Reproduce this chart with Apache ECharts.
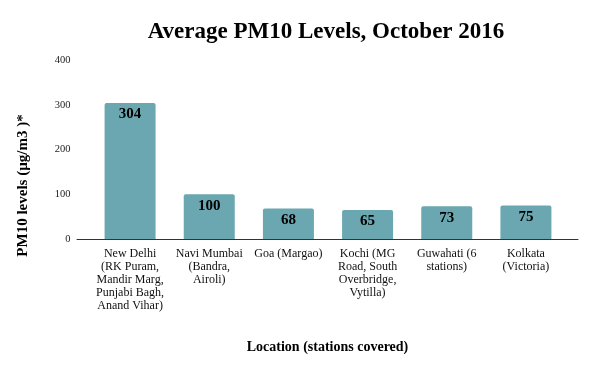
<!DOCTYPE html>
<html><head><meta charset="utf-8">
<script src="https://cdn.jsdelivr.net/npm/echarts@6/dist/echarts.min.js"></script>
<style>html,body{margin:0;padding:0;background:#fff}#c{width:597px;height:368px}</style>
</head><body><div id="c"></div>
<script>
const categories = [
  'New Delhi\n(RK Puram,\nMandir Marg,\nPunjabi Bagh,\nAnand Vihar)',
  'Navi Mumbai\n(Bandra,\nAiroli)',
  'Goa (Margao)',
  'Kochi (MG\nRoad, South\nOverbridge,\nVytilla)',
  'Guwahati (6\nstations)',
  'Kolkata\n(Victoria)'
];
const pm10Values = [304, 100, 68, 65, 73, 75];
const yTicks = [0, 100, 200, 300, 400];

const serif = '"Liberation Serif", "DejaVu Serif", serif';
const chart = echarts.init(document.getElementById('c'), null, {renderer: 'canvas'});
chart.setOption({
  animation: false,
  backgroundColor: '#fff',
  title: {
    text: 'Average PM10 Levels, October 2016',
    left: 321, top: 16, textAlign: 'center',
    textStyle: {fontFamily: serif, fontSize: 23, fontWeight: 'bold', color: '#000'}
  },
  grid: [
    {left: 90.5, right: 31.5, top: 60, bottom: 129},
    {left: 77, right: 19, top: 60, bottom: 129}
  ],
  xAxis: [
    {
      type: 'category', gridIndex: 0, data: categories,
      axisLine: {show: false}, axisTick: {show: false},
      axisLabel: {interval: 0, margin: 8, fontFamily: serif, fontSize: 12, lineHeight: 13, color: '#111', align: 'center'}
    },
    {
      type: 'category', gridIndex: 1, data: [''],
      axisLine: {show: true, lineStyle: {color: '#333', width: 1}},
      axisTick: {show: false}, axisLabel: {show: false},
      name: 'Location (stations covered)', nameLocation: 'middle', nameGap: 101,
      nameTextStyle: {fontFamily: serif, fontSize: 14, fontWeight: 'bold', color: '#000'}
    }
  ],
  yAxis: [
    {
      type: 'value', gridIndex: 0, min: 0, max: 400, interval: 100,
      axisLine: {show: false}, axisTick: {show: false}, splitLine: {show: false},
      axisLabel: {margin: 20, fontFamily: serif, fontSize: 10.5, color: '#222',
        formatter: v => yTicks.includes(v) ? String(v) : ''},
      name: 'PM10 levels (µg/m3 )*', nameLocation: 'middle', nameGap: 60, nameRotate: 90,
      nameTextStyle: {fontFamily: serif, fontSize: 15, fontWeight: 'bold', color: '#000',
        padding: [0, 72, 0, 0]}
    },
    {
      type: 'value', gridIndex: 1, show: false, min: 0, max: 1
    }
  ],
  series: [{
    type: 'bar', xAxisIndex: 0, yAxisIndex: 0,
    data: pm10Values, barWidth: 51,
    itemStyle: {color: '#6aa7b0', borderRadius: [2, 2, 0, 0]},
    label: {show: true, position: 'insideTop', distance: 4,
      fontFamily: serif, fontSize: 15, fontWeight: 'bold', color: '#000'}
  }]
});
</script>
</body></html>
